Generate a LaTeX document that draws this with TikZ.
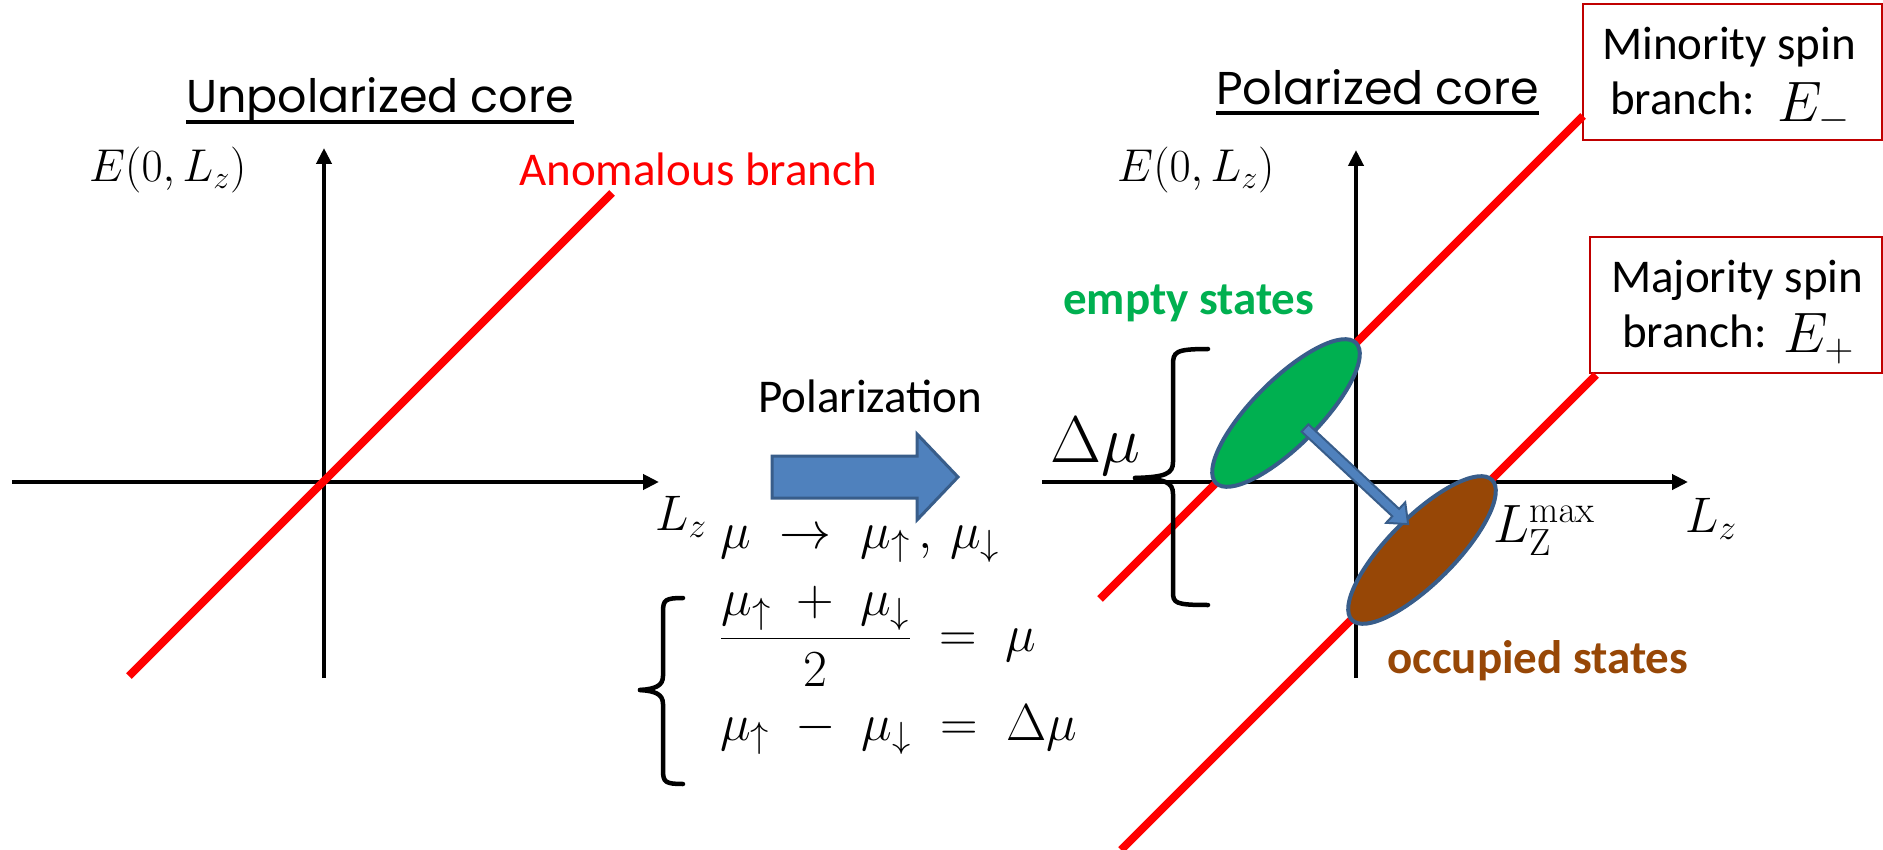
\RequirePackage{fix-cm}
\documentclass[tikz,border=0pt]{standalone}
\usepackage[no-math]{fontspec}
\setmainfont{Carlito}
\newfontfamily\titlefont{Poppins}
\usetikzlibrary{arrows.meta,shapes.geometric}
\definecolor{redl}{RGB}{255,0,0}
\definecolor{boxred}{RGB}{192,0,0}
\definecolor{grfill}{RGB}{0,176,80}
\definecolor{brfill}{RGB}{151,71,6}
\definecolor{blfill}{RGB}{79,129,189}
\definecolor{blbord}{RGB}{56,93,138}
\tikzset{
 axisl/.style={line width=4pt, -{Triangle[length=16pt,width=15pt]}},
 branch/.style={line width=8pt, draw=redl},
 brk/.style={line width=4.5pt, line cap=round},
 cal/.style={inner sep=0pt, font=\fontsize{47}{56}\selectfont},
 calb/.style={inner sep=0pt, font=\fontsize{47}{56}\selectfont\bfseries},
 ttl/.style={inner sep=0pt, font=\titlefont\fontsize{46}{55}\selectfont},
 mth/.style={inner sep=0pt, font=\fontsize{52}{62}\selectfont},
 lzst/.style={inner sep=0pt, font=\fontsize{50}{60}\selectfont},
 spinbox/.style={draw=boxred, line width=2pt, rectangle, inner sep=0pt},
 state/.style={ellipse, draw=blbord, line width=4pt, minimum width=198pt, minimum height=66pt, rotate=45, inner sep=0pt},
}
\begin{document}
\begin{tikzpicture}[x=1pt,y=-1pt]
\useasboundingbox[fill=white] (0,0) rectangle (1883,850);

% ---------- left plot ----------
\coordinate (hL1) at (12,482); \coordinate (hL2) at (659,482);
\coordinate (vL1) at (324,678); \coordinate (vL2) at (324,148);
\draw[axisl] (hL1) -- (hL2);
\draw[axisl] (vL1) -- (vL2);
\coordinate (aL1) at (129,676); \coordinate (aL2) at (612,193);
\draw[branch] (aL1) -- (aL2);

\node[ttl, anchor=base west] (t1) at (186,113) {Unpolarized core};
\draw[line width=4pt] ([yshift=-9pt]t1.base west) -- ([yshift=-9pt]t1.base east);
\node[inner sep=0pt, font=\fontsize{46}{55}\selectfont, anchor=west] (eL) at (89,170) {$E(0,L_z)$};
\node[cal, text=redl, anchor=base west] (anom) at (519,186) {Anomalous branch};
\node[lzst, anchor=base west] (lzL) at (655,530) {$L_z$};

% ---------- middle ----------
\node[cal, anchor=base west] (pol) at (758,412) {Polarization};
\filldraw[fill=blfill, draw=blbord, line width=3pt] (772,456) -- (917,456) -- (917,434) -- (958,477) -- (917,520) -- (917,498) -- (772,498) -- cycle;
\node[mth, anchor=base west] (eq1) at (720,548) {$\mu\;\rightarrow\;\mu_{\uparrow}\,,\,\mu_{\downarrow}$};
\node[mth, anchor=base west] (eq2) at (720,651) {$\displaystyle\frac{\mu_{\uparrow}\;+\;\mu_{\downarrow}}{2}\;=\;\mu$};
\node[mth, anchor=base west] (eq3) at (720,740) {$\mu_{\uparrow}\;-\;\mu_{\downarrow}\;=\;\Delta\mu$};
\draw[brk] (683,598) .. controls (665,598) and (663,600) .. (663,612) -- (663,676) .. controls (663,686) and (655,689) .. (640,690);
\draw[brk] (640,690) .. controls (655,691) and (663,694) .. (663,704) -- (663,770) .. controls (663,782) and (665,784) .. (683,784);

% ---------- right plot ----------
\coordinate (hR1) at (1042,482); \coordinate (hR2) at (1688,482);
\coordinate (vR1) at (1356,678); \coordinate (vR2) at (1356,150);
\draw[axisl] (hR1) -- (hR2);
\draw[axisl] (vR1) -- (vR2);

\node[spinbox, minimum width=299pt, minimum height=136pt] (minb) at (1732,72) {};
\node[spinbox, minimum width=292pt, minimum height=136pt] (majb) at (1736,305) {};

\coordinate (mL1) at (1100,599); \coordinate (mL2) at (1583,116);
\coordinate (pL1) at (1121,850); \coordinate (pL2) at (1596,375);
\draw[branch] (mL1) -- (mL2);
\draw[branch] (pL1) -- (pL2);

\node[state, fill=grfill] (empty) at (1286,413) {};
\node[state, fill=brfill] (occ) at (1422,550) {};

\coordinate (arS) at (1305,428);
\begin{scope}[shift={(arS)}, rotate=-43]
 \filldraw[fill=blfill, draw=blbord, line width=2pt] (0,-5) -- (124,-5) -- (124,-14) -- (141,0) -- (124,14) -- (124,5) -- (0,5) -- cycle;
\end{scope}

\draw[brk] (1208,349) .. controls (1175,349) and (1173,352) .. (1173,365) -- (1173,462) .. controls (1173,474) and (1165,477) .. (1135,478);
\draw[brk] (1135,478) .. controls (1165,479) and (1173,482) .. (1173,494) -- (1173,592) .. controls (1173,603) and (1175,605) .. (1208,605);

\node[ttl, anchor=base west] (t2) at (1216,105) {Polarized core};
\draw[line width=4pt] ([yshift=-8pt]t2.base west) -- ([yshift=-8pt]t2.base east);
\node[inner sep=0pt, font=\fontsize{46}{55}\selectfont, anchor=west] (eR) at (1117,170) {$E(0,L_z)$};
\node[lzst, anchor=base west] (lzR) at (1685,532) {$L_z$};
\node[calb, text=grfill, anchor=base west] (emp) at (1063,315) {empty states};
\node[calb, text=brfill, anchor=base west] (occt) at (1387,673) {occupied states};
\node[inner sep=0pt, font=\fontsize{66}{80}\selectfont, anchor=base west] (dmu) at (1050,462) {$\Delta\mu$};
\node[inner sep=0pt, font=\fontsize{54}{64}\selectfont, anchor=base west] (lmax) at (1493,542) {$L_{\mathrm{Z}}^{\mathrm{max}}$};

\node[cal, anchor=base west] (min1) at (1602,60) {Minority spin};
\node[cal, anchor=base west] (min2) at (1610,115) {branch:};
\node[inner sep=0pt, font=\fontsize{57}{68}\selectfont, anchor=base west] (emin) at (1777,122) {$E_{-}$};
\node[cal, anchor=base west] (maj1) at (1611,293) {Majority spin};
\node[cal, anchor=base west] (maj2) at (1622,348) {branch:};
\node[inner sep=0pt, font=\fontsize{57}{68}\selectfont, anchor=base west] (emaj) at (1783,353) {$E_{+}$};
\end{tikzpicture}
\end{document}
